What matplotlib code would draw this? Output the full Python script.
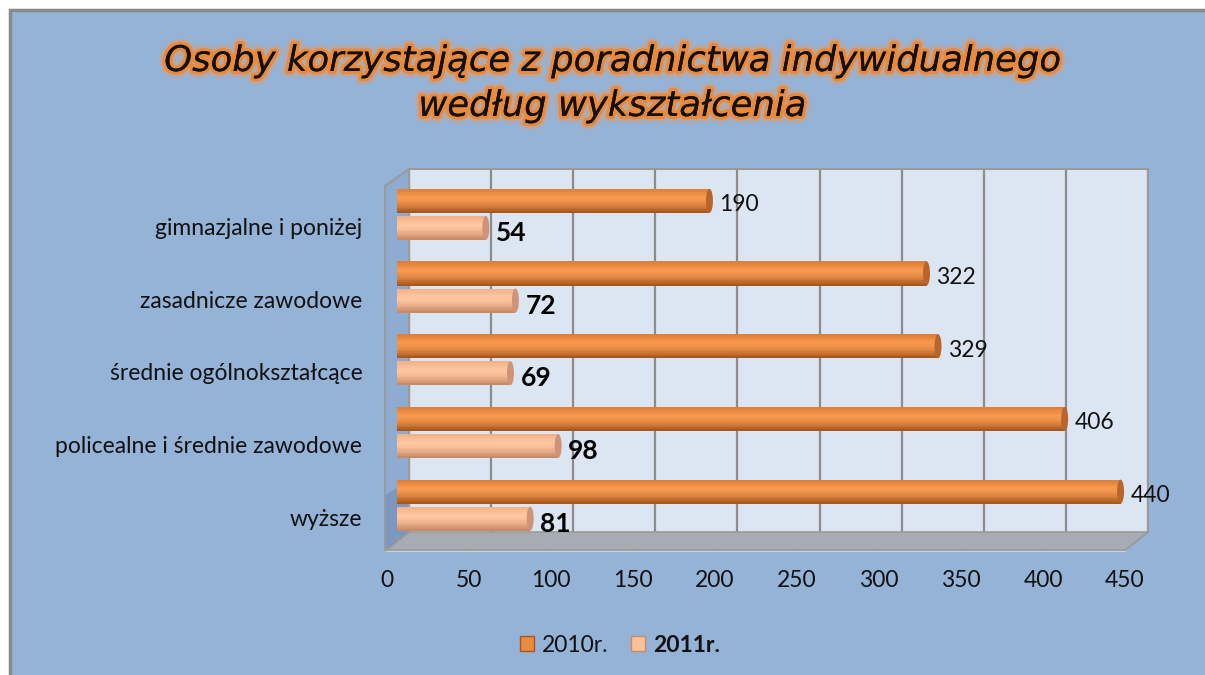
import matplotlib
matplotlib.use("Agg")
import matplotlib.pyplot as plt
import matplotlib.patheffects as pe
from matplotlib.patches import Rectangle, Polygon, Ellipse, Patch
import numpy as np

# ---------------- data ----------------
categories = ["wyższe", "policealne i średnie zawodowe", "średnie ogólnokształcące",
              "zasadnicze zawodowe", "gimnazjalne i poniżej"]
values_2010 = [440, 406, 329, 322, 190]
values_2011 = [81, 98, 69, 72, 54]
series_names = ["2010r.", "2011r."]
x_ticks = [0, 50, 100, 150, 200, 250, 300, 350, 400, 450]
title_lines = ["Osoby korzystające z poradnictwa indywidualnego", "według wykształcenia"]

W, H = 1205, 675
plt.rcParams['font.family'] = ['Lato', 'DejaVu Sans']

fig = plt.figure(figsize=(W / 100, H / 100), dpi=100, facecolor='white')

def fx(px):
    return px / W

def fy(py):
    return 1 - py / H

def rect(x0, y0, x1, y1):
    return [fx(x0), fy(y1), fx(x1) - fx(x0), fy(y0) - fy(y1)]

# chart area background with grey border on top/left
fig.patches.append(Rectangle((fx(10), fy(H + 20)), fx(W + 20) - fx(10), fy(10) - fy(H + 20),
                             transform=fig.transFigure, facecolor='#95b3d7',
                             edgecolor='#8a8a8a', linewidth=2.5, zorder=-5))

# ---------------- back wall ----------------
axw = fig.add_axes(rect(409, 169, 1148, 532))
axw.set_facecolor('#dce6f2')
axw.set_xlim(0, 450)
axw.set_ylim(0, 1)
axw.set_xticks(x_ticks)
axw.set_yticks([])
axw.tick_params(length=0, labelbottom=False)
axw.grid(axis='x', color='#8c8c8c', linewidth=1.6)
for s in axw.spines.values():
    s.set_color('#9a9a9a')
    s.set_linewidth(1.5)
axw.spines['bottom'].set_visible(False)
axw.set_zorder(1)

# left side wall
side = Polygon([(fx(385), fy(550)), (fx(409), fy(532)), (fx(409), fy(169)), (fx(385), fy(186))],
               closed=True, transform=fig.transFigure, facecolor='#8eabd2',
               edgecolor='#9a9a9a', linewidth=1.5, zorder=1)
fig.patches.append(side)
side_dark = Polygon([(fx(386), fy(549)), (fx(408), fy(533)), (fx(408), fy(480)), (fx(386), fy(495))],
                    closed=True, transform=fig.transFigure, facecolor='#6f8db5',
                    edgecolor='none', alpha=0.6, zorder=1)
fig.patches.append(side_dark)

# floor
floor = Polygon([(fx(387), fy(550)), (fx(1125), fy(550)), (fx(1148), fy(532)), (fx(409), fy(532))],
                closed=True, transform=fig.transFigure, facecolor='#a7acb3',
                edgecolor='#9a9a9a', linewidth=1.2, zorder=1)
fig.patches.append(floor)
fig.lines.append(plt.Line2D([fx(387), fx(1125)], [fy(551), fy(551)], transform=fig.transFigure,
                            color='#c9d3df', linewidth=1.5, zorder=1))
for t in x_ticks:
    xf = 387 + (1125 - 387) * t / 450
    xb = 409 + (1148 - 409) * t / 450
    fig.lines.append(plt.Line2D([fx(xf), fx(xb)], [fy(550), fy(532)], transform=fig.transFigure,
                                color='#8a8f96', linewidth=1.2, zorder=1))

# ---------------- bars ----------------
ax = fig.add_axes(rect(397, 170, 1137, 540))
ax.set_facecolor('none')
ax.set_zorder(2)
ax.set_xlim(0, 450)
ax.set_ylim(-0.48, 4.61)
for s in ax.spines.values():
    s.set_visible(False)
ax.set_xticks([])

y = np.arange(len(categories))
bh = 0.33
off = 0.186
pxu = (1137 - 397) / 450.0  # pixels per data unit
cap_w = 7 / pxu

def cylinder(ypos, vals, colors_top, colors_mid, colors_bot, cap_color):
    n = 14
    t = np.linspace(0, 1, n)  # 0 = top, 1 = bottom
    ctop = np.array(matplotlib.colors.to_rgb(colors_top))
    cmid = np.array(matplotlib.colors.to_rgb(colors_mid))
    cbot = np.array(matplotlib.colors.to_rgb(colors_bot))
    for yy, v in zip(ypos, vals):
        ax.add_patch(Ellipse((0, yy), cap_w, bh, facecolor=colors_mid,
                             edgecolor='none', zorder=2))
    for i, ti in enumerate(t):
        if ti < 0.35:
            c = ctop + (cmid - ctop) * (ti / 0.35)
        else:
            c = cmid + (cbot - cmid) * ((ti - 0.35) / 0.65) ** 1.6
        yc = ypos + bh / 2 - (i + 0.5) * bh / n
        ax.barh(yc, vals, height=bh / n * 1.05, left=0, color=c, edgecolor='none', zorder=3)
    for yy, v in zip(ypos, vals):
        ax.add_patch(Ellipse((v, yy), cap_w, bh, facecolor=cap_color,
                             edgecolor='none', zorder=4))

cylinder(y + off, values_2010, '#e07f38', '#f89a50', '#a8581f', '#b8642a')
cylinder(y - off, values_2011, '#f4b28a', '#ffc7a0', '#c98a66', '#cf9477')

for yy, v in zip(y + off, values_2010):
    ax.annotate(str(v), (v, yy), xytext=(10, -4), textcoords='offset pixels',
                ha='left', va='center', fontsize=16.5, color='#111111', zorder=6)
for yy, v in zip(y - off, values_2011):
    ax.annotate(str(v), (v, yy), xytext=(10, -5), textcoords='offset pixels',
                ha='left', va='center', fontsize=19, fontweight='bold', color='#000000', zorder=6)

ax.set_yticks(y - 0.165)
ax.set_yticklabels(categories, fontsize=16.5, color='#111111')
ax.tick_params(axis='y', length=0, pad=25)

# ---------------- x tick labels (front edge) ----------------
axt = fig.add_axes(rect(387, 549, 1125, 551))
axt.set_facecolor('none')
axt.set_zorder(3)
axt.set_xlim(0, 450)
axt.set_yticks([])
axt.set_xticks(x_ticks)
axt.set_xticklabels([str(t) for t in x_ticks], fontsize=16.5, color='#111111')
axt.tick_params(axis='x', length=0, pad=14)
for s in axt.spines.values():
    s.set_visible(False)

# ---------------- title ----------------
for i, line in enumerate(title_lines):
    fig.text(fx(612), fy(61 + 45 * i), line, ha='center', va='center', fontsize=25.5,
             style='italic', family=['DejaVu Sans'], color='#111111',
             path_effects=[pe.withStroke(linewidth=9, foreground='#f79646', alpha=0.35),
                           pe.withStroke(linewidth=4.5, foreground='#f0862e', alpha=0.9),
                           pe.Normal()])

# ---------------- legend ----------------
handles = [Patch(facecolor='#e98a3e', edgecolor='#a8581f', linewidth=1),
           Patch(facecolor='#fcc09a', edgecolor='#c98a66', linewidth=1)]
leg = fig.legend(handles, series_names, loc='center', bbox_to_anchor=(fx(620), fy(645)),
                 ncol=2, frameon=False, fontsize=16.5, handlelength=0.6, handleheight=0.6,
                 handletextpad=0.35, columnspacing=1.0)
leg.get_texts()[1].set_fontweight('bold')
for t in leg.get_texts():
    t.set_color('#111111')

fig.savefig('out.png', dpi=100, facecolor=fig.get_facecolor())
